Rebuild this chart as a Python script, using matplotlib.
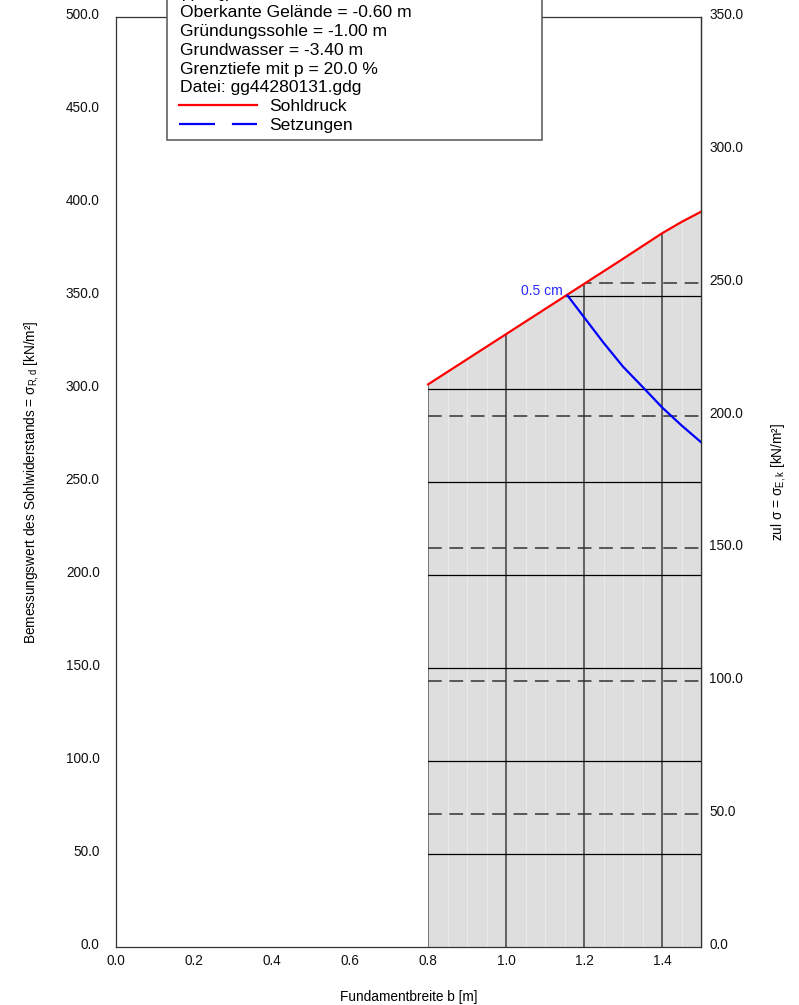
import matplotlib
matplotlib.use('Agg')
import matplotlib.pyplot as plt
import matplotlib.transforms as mtransforms
from matplotlib.patches import Rectangle
from matplotlib.lines import Line2D
import numpy as np

plt.rcParams['font.family'] = ['Liberation Sans', 'DejaVu Sans']
plt.rcParams['mathtext.fontset'] = 'custom'
plt.rcParams['mathtext.rm'] = 'Liberation Sans'
plt.rcParams['mathtext.it'] = 'Liberation Sans:italic'

# Bemessungswert des Sohlwiderstands über der Fundamentbreite
breite = [0.80, 0.90, 1.00, 1.10, 1.20, 1.30, 1.40, 1.45, 1.50]
sohldruck = [302.5, 316.0, 329.5, 343.0, 356.5, 370.0, 383.7, 389.8, 395.3]

# Setzungslinie 0.5 cm (rechte Achse, zul sigma)
setz_breite = [1.158, 1.20, 1.25, 1.30, 1.356, 1.40, 1.45, 1.50]
setz_sigma = [245.1, 237.0, 227.4, 218.4, 209.9, 203.1, 196.3, 190.0]
setz_label = '0.5 cm'

x_ticks = [0.0, 0.2, 0.4, 0.6, 0.8, 1.0, 1.2, 1.4]
left_ticks = [0, 50, 100, 150, 200, 250, 300, 350, 400, 450, 500]
right_ticks = [0, 50, 100, 150, 200, 250, 300, 350]
grid_x = [0.8, 1.0, 1.2, 1.4]

info_lines = [
    'γ(G,Q)',
    'Oberkante Gelände = -0.60 m',
    'Gründungssohle = -1.00 m',
    'Grundwasser = -3.40 m',
    'Grenztiefe mit p = 20.0 %',
    'Datei: gg44280131.gdg',
]
legend_labels = ['Sohldruck', 'Setzungen']

W, H = 799, 1005
fig = plt.figure(figsize=(W / 100, H / 100), dpi=100)


def fx(px):
    return px / W


def fy(py):
    return 1 - py / H


ax = fig.add_axes([fx(116.3), fy(947), fx(701) - fx(116.3), fy(17) - fy(947)])
ax.set_xlim(0.0, 1.5)
ax.set_ylim(0, 500)

right_to_left = 500.0 / 350.0
sec = ax.secondary_yaxis('right', functions=(lambda y: y / right_to_left,
                                             lambda y: y * right_to_left))

# grey area below the bearing-pressure curve
poly = ax.fill_between(breite, 0, sohldruck, color='#dedede', lw=0, zorder=1)
clip = poly.get_paths()[0]

# faint separation lines inside the area
for xv in np.arange(0.85, 1.5, 0.05):
    ln, = ax.plot([xv, xv], [0, 500], color='#eaeaea', lw=0.8, zorder=1.2)
    ln.set_clip_path(clip, ax.transData)

# vertical lines at selected widths
for xv in grid_x:
    ln, = ax.plot([xv, xv], [0, 500], color='#4a4a4a', lw=1.2, zorder=2)
    ln.set_clip_path(clip, ax.transData)

# solid lines for left-axis ticks
for yv in left_ticks[1:]:
    ln, = ax.plot([0.8, 1.5], [yv, yv], color='black', lw=0.9, zorder=2)
    ln.set_clip_path(clip, ax.transData)

# dashed lines for right-axis ticks
for yv in right_ticks[1:]:
    ln, = ax.plot([0.8, 1.5], [yv * right_to_left] * 2, color='#333333',
                  lw=1.1, dashes=(9, 5), zorder=2)
    ln.set_clip_path(clip, ax.transData)

ax.plot(breite, sohldruck, color='#ff0000', lw=1.6, zorder=4)
ax.plot(setz_breite, [v * right_to_left for v in setz_sigma], color='#0000ff',
        lw=1.6, zorder=4)
ax.text(setz_breite[0] - 0.013, setz_sigma[0] * right_to_left + 2.5, setz_label,
        color='#2a2aff', fontsize=10, ha='right', va='center', zorder=5)

ax.set_xticks(x_ticks)
ax.set_xticklabels([f'{v:.1f}' for v in x_ticks])
ax.set_yticks(left_ticks)
ax.set_yticklabels([f'{v:.1f}' for v in left_ticks])
sec.set_yticks(right_ticks)
sec.set_yticklabels([f'{v:.1f}' for v in right_ticks])

ax.tick_params(axis='x', length=0, pad=5, labelsize=9.8, labelcolor='#111111')
ax.tick_params(axis='y', length=0, pad=12, labelsize=9.8, labelcolor='#111111')
sec.tick_params(axis='y', length=0, pad=6, labelsize=9.8, labelcolor='#111111')

up = mtransforms.ScaledTranslation(0, 2.5 / 72, fig.dpi_scale_trans)
for lab in ax.get_yticklabels() + sec.get_yticklabels():
    lab.set_transform(lab.get_transform() + up)

for sp in ax.spines.values():
    sp.set_color('#333333')
    sp.set_linewidth(0.9)
sec.spines['right'].set_color('#333333')
sec.spines['right'].set_linewidth(0.9)

fig.text(fx(408.5), fy(997), 'Fundamentbreite b [m]', fontsize=9.8,
         ha='center', va='center')
fig.text(fx(32), fy(482),
         r'Bemessungswert des Sohlwiderstands = σ$_{\mathrm{R,d}}$ [kN/m²]',
         fontsize=9.8, rotation=90, ha='center', va='center')
fig.text(fx(778), fy(482), r'zul σ = σ$_{\mathrm{E,k}}$ [kN/m²]',
         fontsize=9.8, rotation=90, ha='center', va='center')

# information box at the top
box = Rectangle((fx(167), fy(140)), fx(542) - fx(167), fy(-20) - fy(140),
                transform=fig.transFigure, facecolor='white',
                edgecolor='#555555', lw=1.1, zorder=10)
fig.add_artist(box)

line_y = [-6, 12.7, 31.5, 50.3, 69.1, 87.9]
for txt, py in zip(info_lines, line_y):
    fig.text(fx(180), fy(py), txt, fontsize=12.6, ha='left', va='center',
             zorder=11)

fig.add_artist(Line2D([fx(179), fx(257)], [fy(105.5), fy(105.5)],
                      transform=fig.transFigure, color='#ff0000', lw=1.6,
                      zorder=11))
fig.add_artist(Line2D([fx(179), fx(257)], [fy(124.5), fy(124.5)],
                      transform=fig.transFigure, color='#0000ff', lw=1.6,
                      dashes=(16.2, 7.6), zorder=11))
fig.text(fx(269), fy(106.7), legend_labels[0], fontsize=12.6, ha='left',
         va='center', zorder=11)
fig.text(fx(269), fy(125.5), legend_labels[1], fontsize=12.6, ha='left',
         va='center', zorder=11)

fig.savefig('out.png', dpi=100)
